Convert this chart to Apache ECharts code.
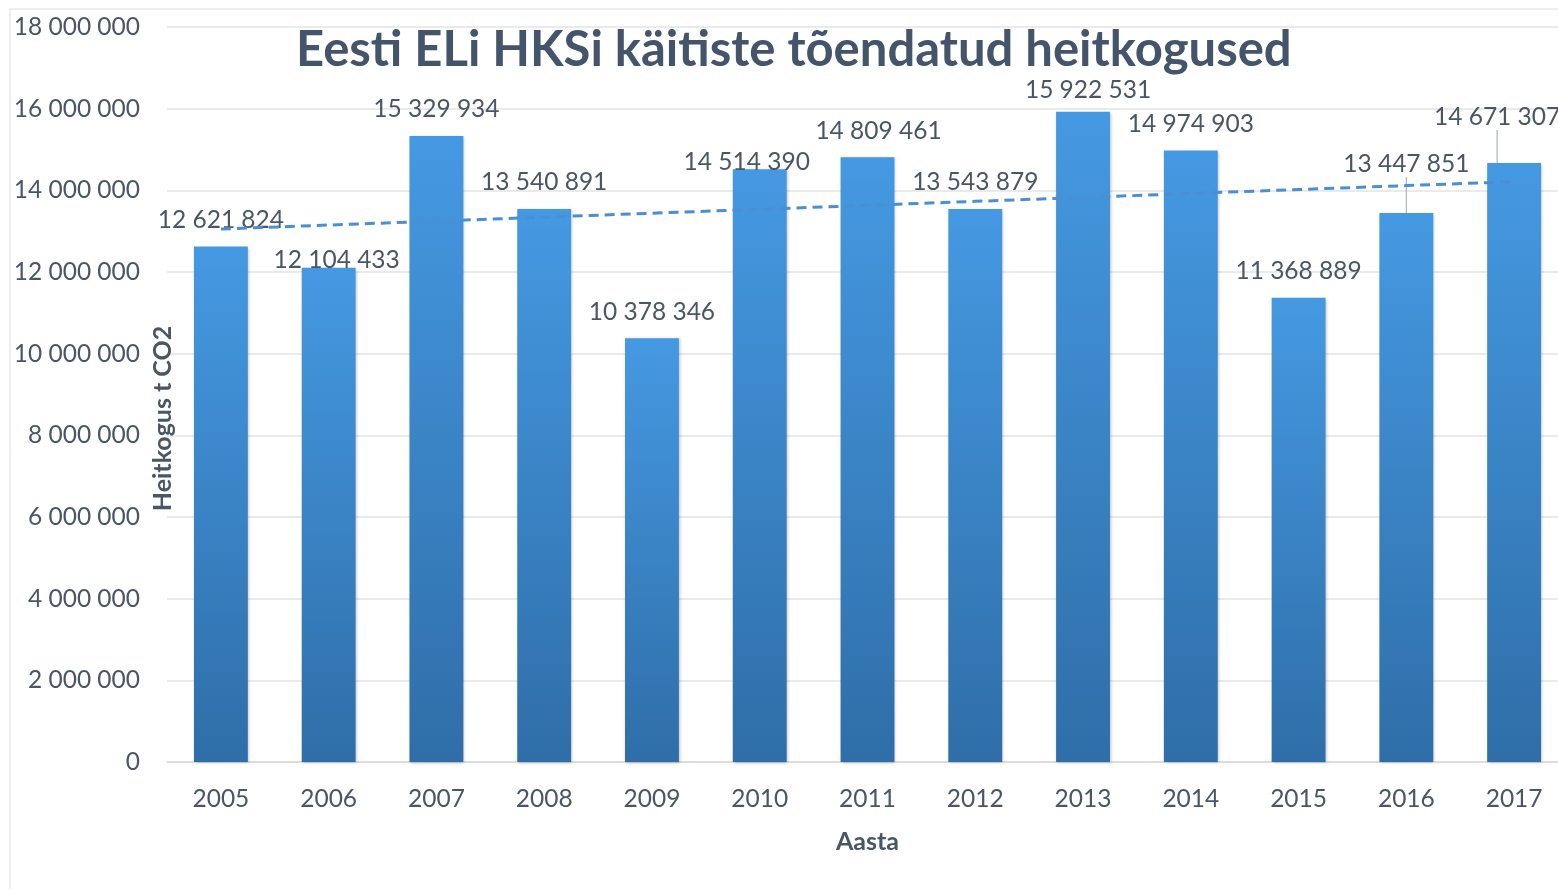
<!DOCTYPE html>
<html>
<head>
<meta charset="utf-8">
<script src="https://cdn.jsdelivr.net/npm/echarts@6/dist/echarts.min.js"></script>
<style>
  html, body { margin: 0; padding: 0; background: #fff; }
  #chart { width: 1558px; height: 889px; }
</style>
</head>
<body>
<div id="chart"></div>
<script>
// andmed
const years = ['2005', '2006', '2007', '2008', '2009', '2010', '2011', '2012', '2013', '2014', '2015', '2016', '2017']
const emissions = [12621824, 12104433, 15329934, 13540891, 10378346, 14514390, 14809461, 13543879, 15922531, 14974903, 11368889, 13447851, 14671307]
const yTicks = [0, 2000000, 4000000, 6000000, 8000000, 10000000, 12000000, 14000000, 16000000, 18000000]

const textColor = '#4a5668'
const fmt = v => String(v).replace(/\B(?=(\d{3})+(?!\d))/g, ' ')

// lineaarne trend (vähimruutude meetod, nagu Exceli trendijoon)
const n = emissions.length
const mx = (n - 1) / 2
const my = emissions.reduce((a, b) => a + b, 0) / n
let sxy = 0, sxx = 0
emissions.forEach((v, i) => { sxy += (i - mx) * (v - my); sxx += (i - mx) * (i - mx) })
const slope = sxy / sxx
const trend = emissions.map((_, i) => my + slope * (i - mx))

// käsitsi nihutatud sildid, 2016 ja 2017 juhtjoonega
const labelShift = { 1: [8, 19], 5: [-13, 19], 6: [11, 0], 8: [5, 5], 11: [0, -22], 12: [-17, -19] }
const leaderLines = [11, 12]

const chart = echarts.init(document.getElementById('chart'))
chart.setOption({
  animation: false,
  graphic: [{
    type: 'rect',
    shape: { x: 10, y: 9, width: 1600, height: 900 },
    style: { fill: 'none', stroke: '#d9dde3', lineWidth: 1 },
    silent: true
  }],
  title: {
    text: 'Eesti ELi HKSi käitiste tõendatud heitkogused',
    left: 291,
    top: 21,
    textStyle: { fontFamily: 'Lato', fontWeight: 'bold', fontSize: 49, color: '#44546a' }
  },
  grid: { left: 167, right: -10, top: 27, bottom: 127, outerBoundsMode: 'none' },
  xAxis: {
    type: 'category',
    data: years,
    name: 'Aasta',
    nameLocation: 'middle',
    nameGap: 67,
    nameMoveOverlap: false,
    nameTextStyle: { fontFamily: 'Lato', fontWeight: 'bold', fontSize: 25, color: textColor },
    axisLine: { lineStyle: { color: '#d9d9d9', width: 1.5 } },
    axisTick: { show: false },
    axisLabel: { fontFamily: 'Lato', fontSize: 24.5, color: textColor, margin: 25 }
  },
  yAxis: {
    type: 'value',
    min: 0,
    max: yTicks[yTicks.length - 1],
    interval: yTicks[1] - yTicks[0],
    name: 'Heitkogus t CO2',
    nameLocation: 'middle',
    nameGap: -8,
    nameMoveOverlap: false,
    nameTextStyle: { fontFamily: 'Lato', fontWeight: 'bold', fontSize: 25, color: textColor, padding: [0, 48, 0, 0] },
    axisLine: { show: false },
    axisTick: { show: false },
    splitLine: { lineStyle: { color: '#e3e3e3', width: 1.5 } },
    axisLabel: { fontFamily: 'Lato', fontSize: 24.5, color: textColor, margin: 27, formatter: fmt }
  },
  series: [
    {
      type: 'bar',
      data: emissions.map((v, i) => ({ value: v, labelLine: { show: leaderLines.includes(i) } })),
      barWidth: '50%',
      itemStyle: {
        color: new echarts.graphic.LinearGradient(0, 0, 0, 1, [
          { offset: 0, color: '#4599e2' },
          { offset: 1, color: '#2f6ea8' }
        ]),
        shadowColor: 'rgba(0,0,0,0.25)',
        shadowBlur: 3,
        shadowOffsetX: 1,
        shadowOffsetY: 1
      },
      label: {
        show: true,
        position: 'top',
        distance: 14,
        fontFamily: 'Lato',
        fontSize: 24.5,
        color: textColor,
        formatter: p => fmt(p.value)
      },
      labelLine: { show: false, lineStyle: { color: '#a9b5c3', width: 1.2 } },
      labelLayout: p => {
        const s = labelShift[p.dataIndex]
        return s ? { dx: s[0], dy: s[1] } : {}
      },
      z: 2
    },
    {
      type: 'line',
      data: trend,
      symbol: 'none',
      lineStyle: { color: '#4a8fd6', width: 3, type: [10, 6] },
      z: 3,
      silent: true
    }
  ]
})
</script>
</body>
</html>
